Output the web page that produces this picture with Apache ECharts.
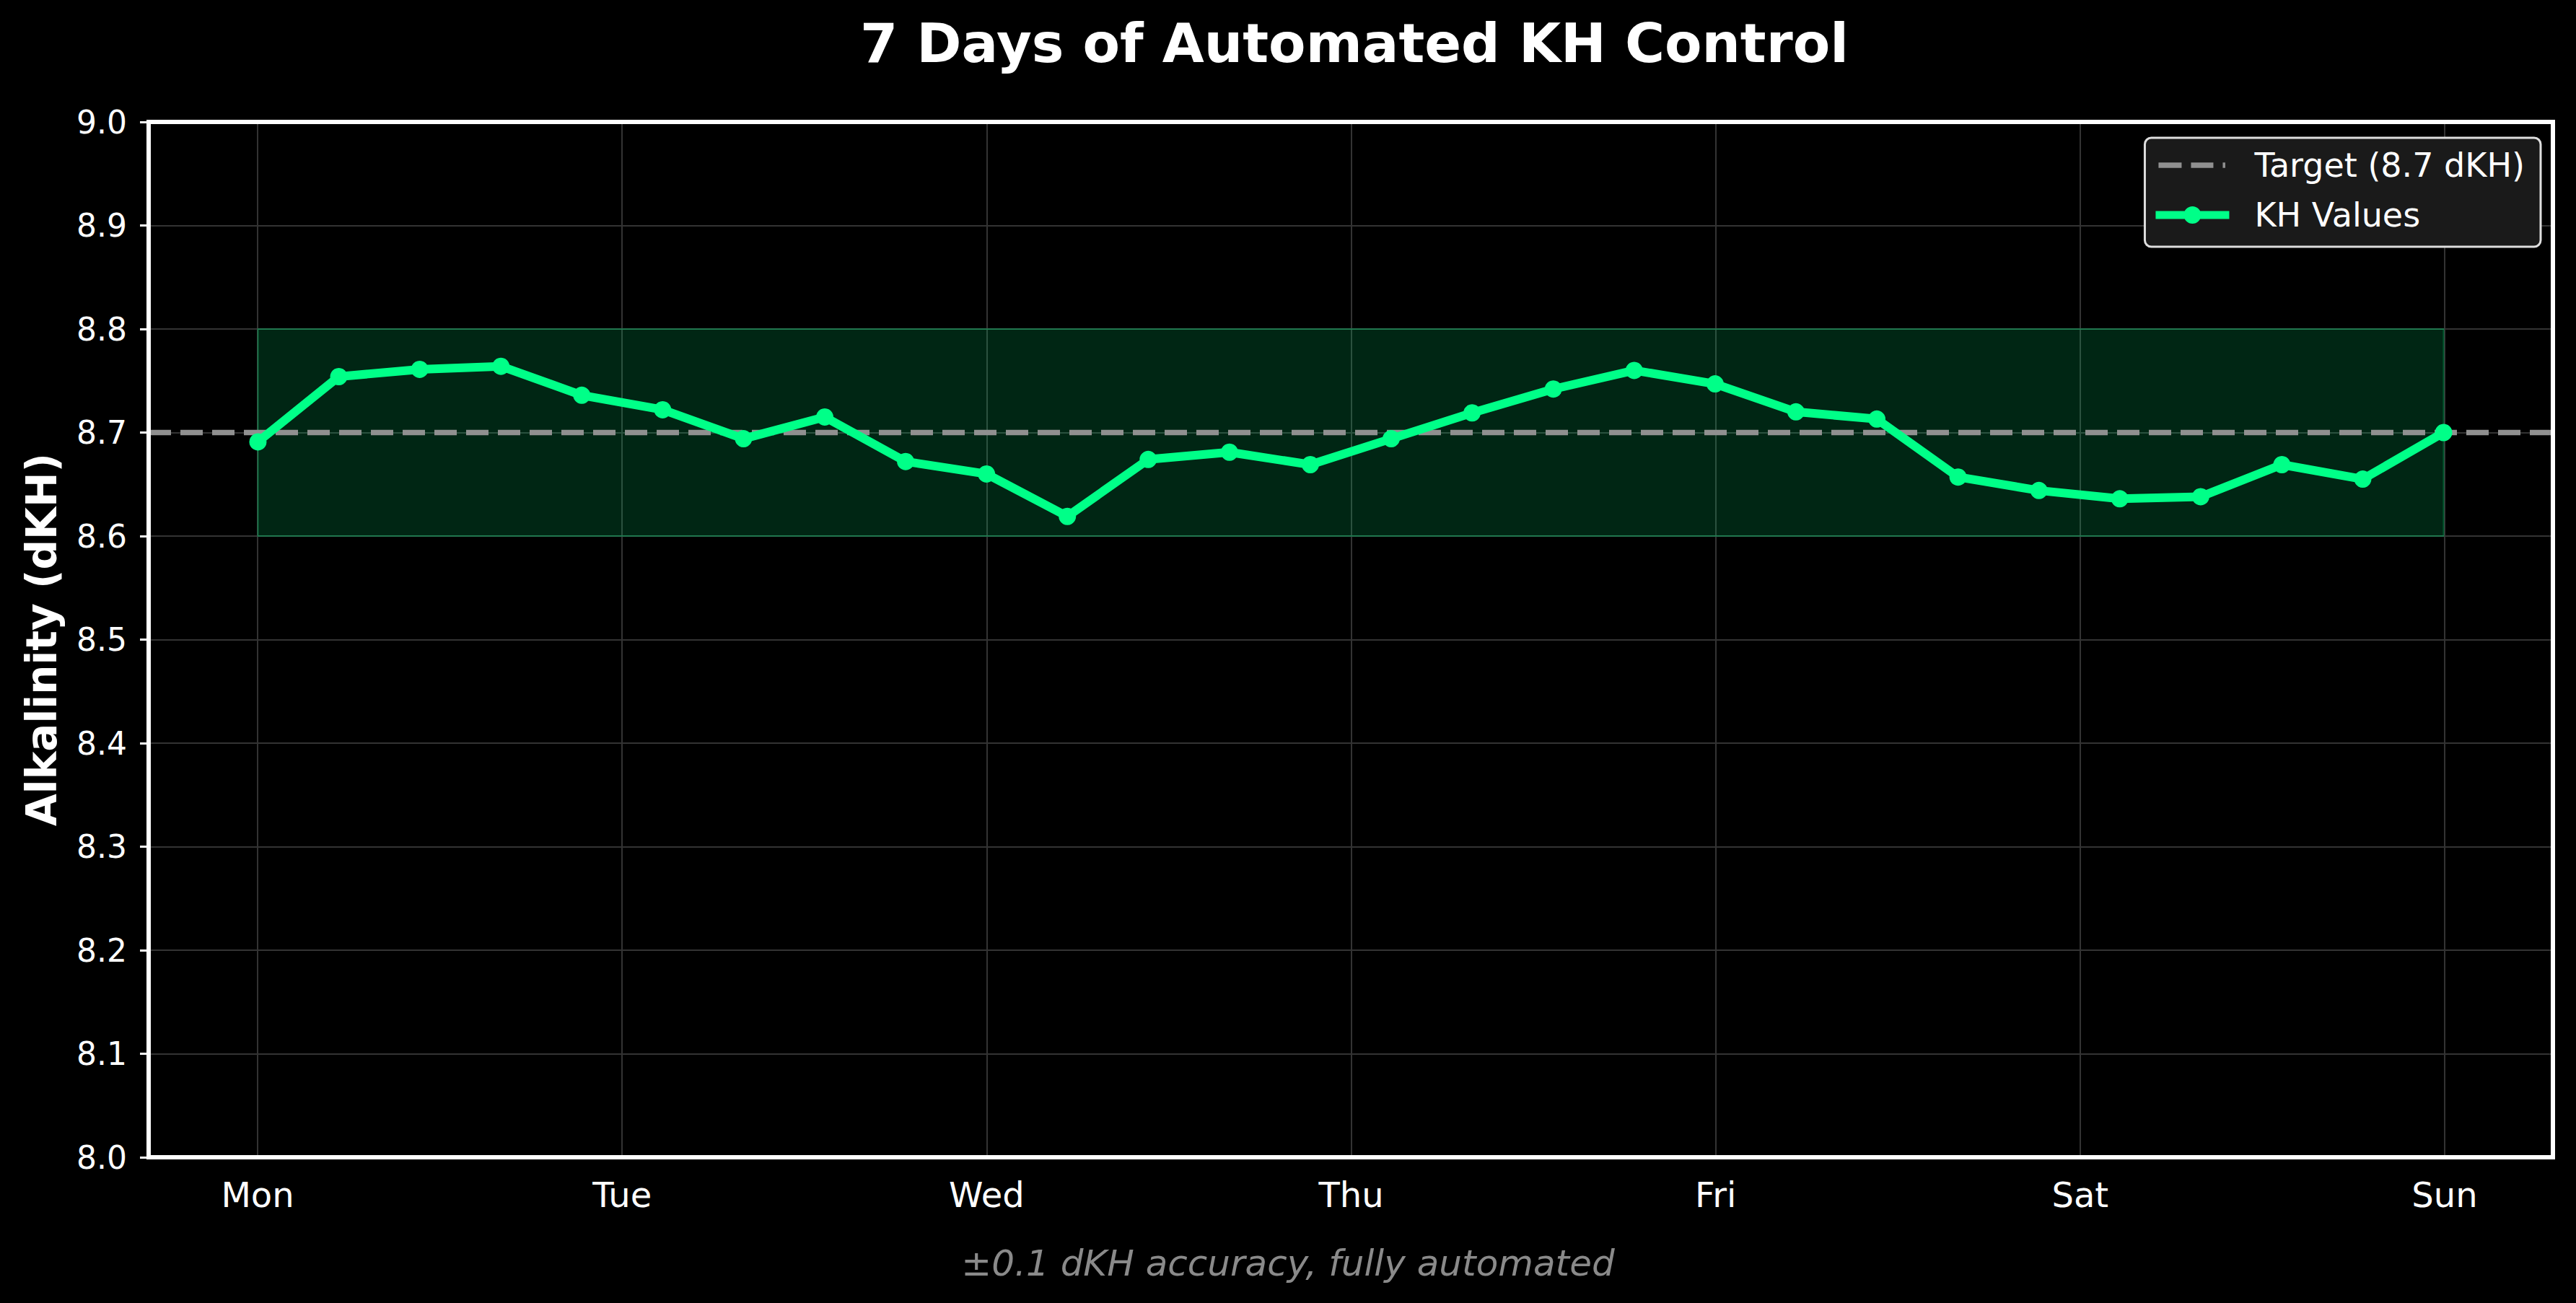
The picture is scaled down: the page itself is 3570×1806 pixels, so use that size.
<!DOCTYPE html>
<html>
<head>
<meta charset="utf-8">
<script src="https://cdn.jsdelivr.net/npm/echarts@6/dist/echarts.min.js"></script>
<style>
html,body{margin:0;padding:0;background:#000;}
#chart{width:3570px;height:1806px;}
</style>
</head>
<body>
<div id="chart"></div>
<script>
// ---- data ----
const dayLabels = ['Mon', 'Tue', 'Wed', 'Thu', 'Fri', 'Sat', 'Sun'];
const timeDays = [0, 0.222, 0.444, 0.667, 0.889, 1.111, 1.333, 1.556, 1.778, 2,
  2.222, 2.444, 2.667, 2.889, 3.111, 3.333, 3.556, 3.778, 4, 4.222,
  4.444, 4.667, 4.889, 5.111, 5.333, 5.556, 5.778, 6];
const khValues = [8.691, 8.754, 8.761, 8.764, 8.736, 8.722, 8.694, 8.715, 8.672, 8.660,
  8.619, 8.674, 8.681, 8.669, 8.694, 8.719, 8.742, 8.760, 8.747, 8.720,
  8.713, 8.657, 8.644, 8.636, 8.638, 8.669, 8.655, 8.700];
const targetKH = 8.7;
const bandLow = 8.6;
const bandHigh = 8.8;
const xLimits = [-0.3, 6.3];
const yLimits = [8.0, 9.0];
const yTickStep = 0.1;

const FONT = 'DejaVu Sans';
const GREEN = '#00ff88';
const GRAY = '#909090';
const chart = echarts.init(document.getElementById('chart'), null, {renderer: 'svg'});

// legend handle shapes (102 x 24 box)
const corners = 'M0 0 L0.05 0 L0 0.05 Z M102 24 L101.95 24 L102 23.95 Z ';
const dashIcon = 'path://' + corners +
  'M4 8.3 L36 8.3 L36 15.7 L4 15.7 Z M49 8.3 L80 8.3 L80 15.7 L49 15.7 Z M93 8.3 L96.5 8.3 L96.5 15.7 L93 15.7 Z';
const lineMarkerIcon = 'path://M0 6.5 L102 6.5 L102 17.5 L0 17.5 Z M39 12 A12 12 0 1 1 63 12 A12 12 0 1 1 39 12 Z';

const spine = {show: true, onZero: false, lineStyle: {color: '#ffffff', width: 6, cap: 'square'}};
const spineAxis = (extra) => Object.assign({
  type: 'value', gridIndex: 0, z: 10,
  axisLine: spine, axisTick: {show: false}, axisLabel: {show: false}, splitLine: {show: false}
}, extra);

const option = {
  backgroundColor: '#000000',
  animation: false,
  title: {
    text: '7 Days of Automated KH Control',
    left: 1872,
    top: 17,
    textAlign: 'center',
    textStyle: {color: '#ffffff', fontFamily: FONT, fontWeight: 'bold', fontSize: 75}
  },
  graphic: [{
    type: 'text',
    x: 1785, y: 1751,
    style: {
      text: '±0.1 dKH accuracy, fully automated',
      fill: '#8a8a8a', fontFamily: FONT, fontStyle: 'italic', fontSize: 50,
      align: 'center', verticalAlign: 'middle'
    }
  }],
  legend: {
    orient: 'vertical',
    right: 49,
    top: 191,
    data: [
      {name: 'Target (8.7 dKH)', icon: dashIcon, itemStyle: {color: GRAY, borderWidth: 0}},
      {name: 'KH Values', icon: lineMarkerIcon, itemStyle: {color: GREEN, borderWidth: 0}}
    ],
    backgroundColor: '#1a1a1a',
    borderColor: '#dedede',
    borderWidth: 3,
    borderRadius: 9,
    padding: [13, 22, 19, 15],
    itemWidth: 102,
    itemHeight: 24,
    itemGap: 19,
    textStyle: {color: '#ffffff', fontFamily: FONT, fontSize: 46, lineHeight: 50, padding: [0, 0, 0, 30]}
  },
  grid: [
    {left: 206, right: 32, top: 169, bottom: 202, show: false},
    {left: 357, right: 182, top: 169, bottom: 202, show: false}
  ],
  xAxis: [
    spineAxis({min: xLimits[0], max: xLimits[1], position: 'bottom'}),
    {
      type: 'value', gridIndex: 1, min: 0, max: dayLabels.length - 1, interval: 1,
      axisLine: {show: false, onZero: false}, axisTick: {show: false},
      axisLabel: {
        color: '#ffffff', fontFamily: FONT, fontSize: 48, margin: 28,
        formatter: v => dayLabels[Math.round(v)] || ''
      },
      splitLine: {show: true, lineStyle: {color: '#333333', width: 2}}
    },
    spineAxis({min: xLimits[0], max: xLimits[1], position: 'top'})
  ],
  yAxis: [
    {
      type: 'value', gridIndex: 0, min: yLimits[0], max: yLimits[1], interval: yTickStep, position: 'left',
      name: 'Alkalinity (dKH)', nameLocation: 'middle', nameRotate: 90, nameGap: 119,
      nameTextStyle: {color: '#ffffff', fontFamily: FONT, fontWeight: 'bold', fontSize: 58},
      axisLine: {show: false, onZero: false},
      axisTick: {show: true, length: 12, inside: false, lineStyle: {color: '#ffffff', width: 3}},
      axisLabel: {color: '#ffffff', fontFamily: FONT, fontSize: 44, margin: 30, formatter: v => v.toFixed(1)},
      splitLine: {show: true, showMinLine: false, showMaxLine: false, lineStyle: {color: '#333333', width: 2}}
    },
    {
      type: 'value', gridIndex: 1, min: yLimits[0], max: yLimits[1], show: false,
      axisLine: {show: false, onZero: false}, axisTick: {show: false}, axisLabel: {show: false}, splitLine: {show: false}
    },
    spineAxis({min: yLimits[0], max: yLimits[1], position: 'right'}),
    spineAxis({min: yLimits[0], max: yLimits[1], position: 'left'})
  ],
  series: [
    {
      name: 'Target (8.7 dKH)',
      type: 'line',
      xAxisIndex: 0, yAxisIndex: 0,
      data: [[xLimits[0], targetKH], [xLimits[1], targetKH]],
      showSymbol: false,
      symbol: 'none',
      lineStyle: {color: GRAY, width: 7.5, type: [31, 13]},
      itemStyle: {color: GRAY},
      z: 3
    },
    {
      name: 'KH Values',
      type: 'line',
      xAxisIndex: 0, yAxisIndex: 0,
      data: timeDays.map((t, i) => [t, khValues[i]]),
      symbol: 'circle',
      symbolSize: 24,
      showSymbol: true,
      lineStyle: {color: GREEN, width: 12},
      itemStyle: {color: GREEN, borderWidth: 0},
      z: 4,
      markArea: {
        silent: true,
        itemStyle: {color: 'rgba(0,255,136,0.15)', borderColor: 'rgba(0,255,136,0.28)', borderWidth: 2},
        data: [[{coord: [timeDays[0], bandLow]}, {coord: [timeDays[timeDays.length - 1], bandHigh]}]]
      }
    }
  ]
};
chart.setOption(option);
</script>
</body>
</html>
